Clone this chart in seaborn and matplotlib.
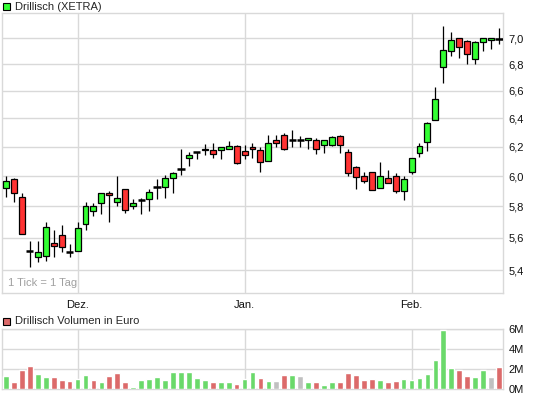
import numpy as np
import pandas as pd
import seaborn as sns
import matplotlib
matplotlib.use("Agg")
import matplotlib.pyplot as plt
from matplotlib.patches import Rectangle
from matplotlib.ticker import FixedLocator, NullLocator

# Drillisch (XETRA) daily candles
opens = [5.92, 5.98, 5.86, 5.52, 5.48, 5.49, 5.57, 5.62, 5.51, 5.52,
         5.69, 5.77, 5.82, 5.89, 5.83, 5.915, 5.80, 5.845, 5.85, 5.925,
         5.93, 5.99, 6.05, 6.125, 6.165, 6.18, 6.175, 6.175, 6.185, 6.205,
         6.17, 6.20, 6.175, 6.10, 6.245, 6.285, 6.245, 6.245, 6.25, 6.245,
         6.215, 6.215, 6.275, 6.165, 6.06, 6.00, 6.025, 5.92, 5.99, 6.00,
         5.90, 6.03, 6.16, 6.23, 6.39, 6.775, 6.90, 7.00, 6.975, 6.84,
         6.97, 6.985, 6.99]
highs = [6.00, 5.99, 5.89, 5.58, 5.58, 5.70, 5.65, 5.68, 5.56, 5.70,
         5.83, 5.82, 5.89, 5.90, 6.00, 5.915, 5.85, 5.855, 5.915, 5.98,
         6.005, 6.025, 6.185, 6.165, 6.165, 6.22, 6.225, 6.20, 6.24, 6.21,
         6.21, 6.225, 6.20, 6.285, 6.28, 6.295, 6.315, 6.275, 6.26, 6.26,
         6.25, 6.275, 6.28, 6.185, 6.07, 6.03, 6.03, 6.095, 6.04, 6.02,
         6.00, 6.125, 6.225, 6.375, 6.625, 7.10, 7.045, 7.005, 6.985, 6.975,
         7.00, 7.00, 7.08]
lows = [5.86, 5.83, 5.625, 5.42, 5.45, 5.455, 5.48, 5.51, 5.48, 5.52,
        5.65, 5.74, 5.75, 5.70, 5.80, 5.76, 5.785, 5.75, 5.77, 5.85,
        5.855, 5.89, 6.01, 6.07, 6.115, 6.145, 6.12, 6.115, 6.185, 6.085,
        6.115, 6.12, 6.03, 6.10, 6.20, 6.175, 6.20, 6.20, 6.185, 6.15,
        6.16, 6.205, 6.155, 6.00, 5.915, 5.955, 5.91, 5.92, 5.955, 5.89,
        5.845, 6.015, 6.13, 6.17, 6.39, 6.66, 6.865, 6.845, 6.80, 6.80,
        6.90, 6.915, 6.955]
closes = [5.97, 5.89, 5.625, 5.52, 5.51, 5.67, 5.55, 5.54, 5.51, 5.66,
          5.80, 5.80, 5.89, 5.875, 5.855, 5.78, 5.825, 5.845, 5.895, 5.925,
          5.99, 6.02, 6.05, 6.145, 6.165, 6.185, 6.15, 6.20, 6.205, 6.09,
          6.145, 6.185, 6.095, 6.225, 6.225, 6.185, 6.245, 6.245, 6.26, 6.185,
          6.245, 6.27, 6.215, 6.02, 5.995, 5.97, 5.91, 6.00, 5.955, 5.90,
          5.98, 6.125, 6.205, 6.37, 6.54, 6.91, 6.985, 6.935, 6.875, 6.97,
          7.00, 7.00, 6.99]

# volume in million euro and bar colour class (g = up, r = down, n = unchanged)
volumes = [1.3, 0.7, 1.9, 2.3, 1.5, 1.2, 1.2, 0.9, 0.8, 1.0,
           1.4, 0.9, 0.7, 1.3, 1.6, 0.7, 0.2, 0.9, 1.0, 1.2,
           0.9, 1.7, 1.7, 1.7, 1.1, 0.9, 0.7, 0.7, 0.7, 0.5,
           1.0, 1.7, 1.1, 0.8, 0.8, 1.4, 1.4, 1.3, 0.7, 0.7,
           0.4, 0.7, 0.7, 1.6, 1.4, 0.9, 1.0, 0.9, 0.7, 0.8,
           1.0, 0.9, 1.1, 1.5, 2.9, 5.95, 2.1, 1.9, 1.3, 1.2,
           1.9, 1.2, 2.2]
vol_dir = list("grrrggrrrg" "grgrrrgggg" "ggggggrggr" "ggrgnrgngr"
               "ggrrrrrgrr" "gggggggrrg" "gnr")

month_pos = [9, 30, 51]
month_labels = ["Dez.", "Jan.", "Feb."]
price_ticks = [5.4, 5.6, 5.8, 6.0, 6.2, 6.4, 6.6, 6.8, 7.0]
vol_ticks = [0, 2, 4, 6]

W, H = 545, 398
GRID = "#d9d9d9"
UP, DOWN = "#33ff33", "#ff3333"

sns.set_style("white")
plt.rcParams["font.family"] = ["Liberation Sans", "DejaVu Sans"]

fig = plt.figure(figsize=(W / 100, H / 100), dpi=100)


def box(l, t, r, b):
    return [l / W, 1 - b / H, (r - l) / W, (b - t) / H]


ax = fig.add_axes(box(2, 13, 503, 293))
axv = fig.add_axes(box(2, 329, 503, 389))

df = pd.DataFrame({"open": opens, "high": highs, "low": lows, "close": closes})
df["i"] = np.arange(len(df))
df["up"] = df["close"] >= df["open"]

# candles
ax.vlines(df["i"], df["low"], df["high"], color="black", lw=0.9, zorder=2)
body = df[df["close"] != df["open"]]
ax.bar(body["i"], (body["close"] - body["open"]).abs(),
       bottom=body[["open", "close"]].min(axis=1), width=0.75,
       color=np.where(body["up"], UP, DOWN), edgecolor="black", lw=0.9, zorder=3)
doji = df[df["close"] == df["open"]]
ax.hlines(doji["close"], doji["i"] - 0.45, doji["i"] + 0.45, color="black", lw=1.8, zorder=3)

ax.set_yscale("log")
ax.set_ylim(5.265, 7.2)
ax.set_xlim(-0.5, 62.5)
ax.yaxis.set_major_locator(FixedLocator(price_ticks))
ax.yaxis.set_minor_locator(NullLocator())
ax.set_yticklabels([f"{t:.1f}".replace(".", ",") for t in price_ticks])
ax.yaxis.tick_right()
ax.set_xticks(month_pos)
ax.set_xticklabels(month_labels)
ax.tick_params(length=0, labelsize=8, colors="#111111")
ax.tick_params(axis="y", pad=4)
ax.tick_params(axis="x", pad=5)
ax.grid(True, color=GRID, lw=1.0)
ax.set_axisbelow(True)
for s in ax.spines.values():
    s.set_color(GRID)
    s.set_linewidth(1.0)
ax.set_xlabel("")
ax.text(0.012, 0.018, "1 Tick = 1 Tag", transform=ax.transAxes, fontsize=8,
        color="#a0a0a0", ha="left", va="bottom")

# volume
vdf = pd.DataFrame({"i": np.arange(len(volumes)), "vol": volumes, "dir": vol_dir})
sns.barplot(data=vdf, x="i", y="vol", hue="dir", native_scale=True, dodge=False,
            palette={"g": "#6ad96a", "r": "#dc6a6a", "n": "#c0c0c0"},
            width=0.72, saturation=1, legend=False, ax=axv, zorder=3)
axv.set_xlim(-0.5, 62.5)
axv.set_ylim(0, 6)
axv.set_yticks(vol_ticks)
axv.set_yticklabels([f"{t}M" for t in vol_ticks])
axv.yaxis.tick_right()
axv.set_xticks(month_pos)
axv.set_xticklabels([])
axv.tick_params(length=0, labelsize=8, colors="#111111", pad=4)
axv.grid(True, color=GRID, lw=1.0)
axv.set_axisbelow(True)
axv.set_xlabel("")
axv.set_ylabel("")
for s in axv.spines.values():
    s.set_color(GRID)
    s.set_linewidth(1.0)

# legend boxes at the top of each panel
fig.patches.append(Rectangle((3 / W, 1 - 10 / H), 7 / W, 7 / H, transform=fig.transFigure,
                             facecolor=UP, edgecolor="black", lw=0.8))
fig.text(15 / W, 1 - 6.5 / H, "Drillisch (XETRA)", fontsize=8, va="center", ha="left")
fig.patches.append(Rectangle((3 / W, 1 - 324.5 / H), 7 / W, 7 / H, transform=fig.transFigure,
                             facecolor="#dc6a6a", edgecolor="black", lw=0.8))
fig.text(15 / W, 1 - 321 / H, "Drillisch Volumen in Euro", fontsize=8, va="center", ha="left")

fig.savefig("out.png", dpi=100)
